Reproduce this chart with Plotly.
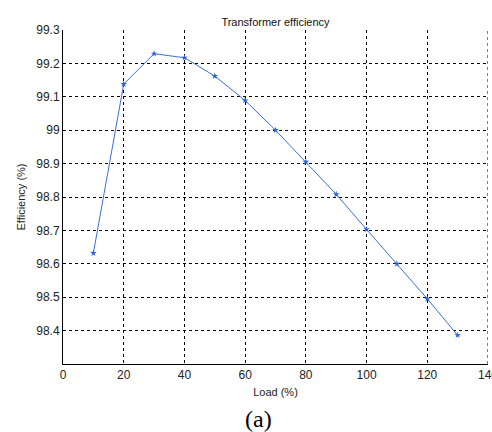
import plotly.graph_objects as go

load = [10, 20, 30, 40, 50, 60, 70, 80, 90, 100, 110, 120, 130]
efficiency = [98.632, 99.138, 99.229, 99.217, 99.162, 99.089, 99.0, 98.905, 98.808, 98.703, 98.600, 98.495, 98.386]
x_ticks = [0, 20, 40, 60, 80, 100, 120, 140]
y_ticks = [98.4, 98.5, 98.6, 98.7, 98.8, 98.9, 99.0, 99.1, 99.2, 99.3]
y_labels = ["98.4", "98.5", "98.6", "98.7", "98.8", "98.9", "99", "99.1", "99.2", "99.3"]

fig = go.Figure()
fig.add_trace(go.Scatter(
    x=load, y=efficiency, mode="lines+markers",
    line=dict(color="#3a6fd8", width=1),
    marker=dict(symbol="star", size=5, color="#2f62d6"),
    showlegend=False, cliponaxis=False,
))

axis_font = dict(family="Arial, Liberation Sans, sans-serif", size=12, color="#222")
fig.update_layout(
    width=492, height=432,
    margin=dict(l=63, r=4, t=30, b=68),
    paper_bgcolor="white", plot_bgcolor="white",
    title=dict(text="Transformer efficiency", x=0.5, xref="paper", y=1, yref="paper",
               yanchor="bottom", pad=dict(b=4),
               font=dict(family="Arial, Liberation Sans, sans-serif", size=11, color="#111")),
    xaxis=dict(range=[0, 140], tickvals=x_ticks, showgrid=True, gridcolor="black",
               griddash="3px,3px", gridwidth=1, showline=True, linecolor="black", linewidth=1,
               ticks="", zeroline=False, tickfont=axis_font,
               title=dict(text="Load (%)", standoff=6,
                          font=dict(family="Arial, Liberation Sans, sans-serif", size=11, color="#222"))),
    yaxis=dict(range=[98.3, 99.3], tickvals=y_ticks, ticktext=y_labels, showgrid=True,
               gridcolor="black", griddash="3px,3px", gridwidth=1, showline=True,
               linecolor="black", linewidth=1, ticks="", zeroline=False, tickfont=axis_font,
               title=dict(text="Efficiency (%)", standoff=8,
                          font=dict(family="Arial, Liberation Sans, sans-serif", size=11, color="#222"))),
)
# right edge gridline at x=140 (drawn dashed like the grid)
fig.add_shape(type="line", xref="x", yref="paper", x0=x_ticks[-1], x1=x_ticks[-1], y0=0, y1=1,
              line=dict(color="black", width=1, dash="3px,3px"), layer="below")
# clipped "140" tick label at the right edge
fig.add_annotation(text=str(x_ticks[-1]), xref="x", yref="paper", x=x_ticks[-1], y=0,
                   xanchor="center", yanchor="top", yshift=-2, showarrow=False,
                   font=axis_font)
fig.add_annotation(text="(a)", xref="paper", yref="paper", x=(258 - 63) / 425, y=-0.12,
                   xanchor="center", yanchor="top", showarrow=False,
                   font=dict(family="Liberation Serif, Times New Roman, serif", size=24, color="black"))
fig.write_html("out.html")
